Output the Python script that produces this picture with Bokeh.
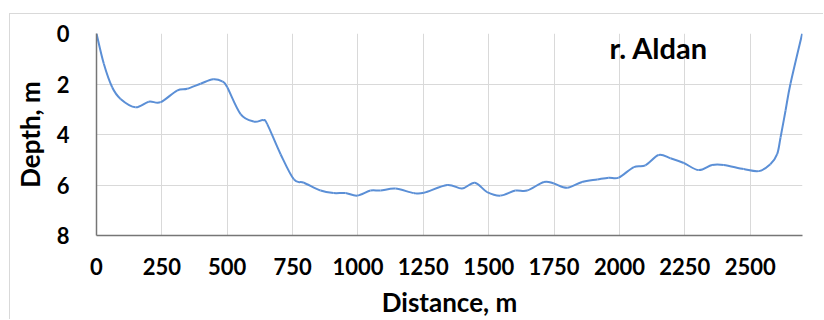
from bokeh.plotting import figure
from bokeh.models import Range1d, FixedTicker, Label
from bokeh.embed import file_html
from bokeh.resources import INLINE

# Cross-section profile of the river bed
distance_m = [0, 28, 60, 92, 149, 200, 245, 308, 347, 398, 446, 481, 500, 551,
              602, 637, 653, 704, 755, 793, 857, 907, 952, 997, 1048, 1086, 1143,
              1213, 1252, 1341, 1398, 1447, 1494, 1545, 1602, 1647, 1711, 1749,
              1800, 1857, 1915, 1959, 1997, 2055, 2099, 2150, 2195, 2246, 2303,
              2354, 2399, 2475, 2533, 2577, 2603, 2616, 2635, 2654, 2699]
depth_m = [0.0, 1.2, 2.13, 2.59, 2.92, 2.70, 2.72, 2.26, 2.19, 1.99, 1.81, 1.90,
           2.13, 3.19, 3.49, 3.43, 3.59, 4.78, 5.78, 5.91, 6.22, 6.32, 6.32, 6.42,
           6.22, 6.22, 6.14, 6.32, 6.31, 6.00, 6.14, 5.91, 6.28, 6.42, 6.22, 6.22,
           5.88, 5.94, 6.11, 5.88, 5.78, 5.71, 5.71, 5.29, 5.22, 4.81, 4.94, 5.13,
           5.41, 5.21, 5.21, 5.37, 5.45, 5.18, 4.78, 4.12, 3.06, 1.99, 0.0]

x_ticks = [0, 250, 500, 750, 1000, 1250, 1500, 1750, 2000, 2250, 2500]
y_ticks = [0, 2, 4, 6, 8]
river_name = "r. Aldan"

FONT = "Lato"

p = figure(width=814, height=306, output_backend="svg", toolbar_location=None,
           x_range=Range1d(0, 2700), y_range=Range1d(8, 0),
           min_border_left=86, min_border_right=22, min_border_top=19,
           min_border_bottom=72)
p.margin = (13, 0, 0, 9)
p.styles = {"border-top": "1px solid #d9d9d9", "border-left": "1px solid #d9d9d9"}
p.outline_line_color = None

# Smoothed profile: each segment between measured points is drawn as a
# cubic Bezier whose handles follow the neighbouring points (Catmull-Rom).
n = len(distance_m)
x0, y0, x1, y1, cx0, cy0, cx1, cy1 = ([] for _ in range(8))
for i in range(n - 1):
    a = max(i - 1, 0)
    b = min(i + 2, n - 1)
    x0.append(distance_m[i]); y0.append(depth_m[i])
    x1.append(distance_m[i + 1]); y1.append(depth_m[i + 1])
    cx0.append(distance_m[i] + (distance_m[i + 1] - distance_m[a]) / 6)
    cy0.append(depth_m[i] + (depth_m[i + 1] - depth_m[a]) / 6)
    cx1.append(distance_m[i + 1] - (distance_m[b] - distance_m[i]) / 6)
    cy1.append(depth_m[i + 1] - (depth_m[b] - depth_m[i]) / 6)
p.bezier(x0=x0, y0=y0, x1=x1, y1=y1, cx0=cx0, cy0=cy0, cx1=cx1, cy1=cy1,
         line_color="#5b8fd6", line_width=2)

for ax in (p.xaxis, p.yaxis):
    ax.axis_line_color = "#767676"
    ax.axis_line_width = 1.5
    ax.major_tick_line_color = None
    ax.minor_tick_line_color = None
    ax.major_label_text_font = FONT
    ax.major_label_text_font_style = "bold"
    ax.major_label_text_font_size = "22px"
    ax.major_label_text_color = "#000000"
    ax.axis_label_text_font = FONT
    ax.axis_label_text_font_style = "bold"
    ax.axis_label_text_font_size = "26px"
    ax.axis_label_text_color = "#000000"

p.xaxis.ticker = FixedTicker(ticks=x_ticks)
p.yaxis.ticker = FixedTicker(ticks=y_ticks)
p.xaxis.major_label_standoff = 16
p.yaxis.major_label_standoff = 21
p.xaxis.axis_label = "Distance, m"
p.yaxis.axis_label = "Depth, m"
p.xaxis.axis_label_standoff = 8
p.yaxis.axis_label_standoff = 8

p.xgrid.ticker = FixedTicker(ticks=x_ticks)
p.ygrid.ticker = FixedTicker(ticks=y_ticks)
p.grid.grid_line_color = "#d9d9d9"
p.grid.grid_line_width = 1

p.add_layout(Label(x=1962, y=0.55, text=river_name, text_font=FONT,
                   text_font_style="bold", text_font_size="29px",
                   text_baseline="middle", text_color="#000000"))

open("out.html", "w").write(file_html(p, INLINE))
